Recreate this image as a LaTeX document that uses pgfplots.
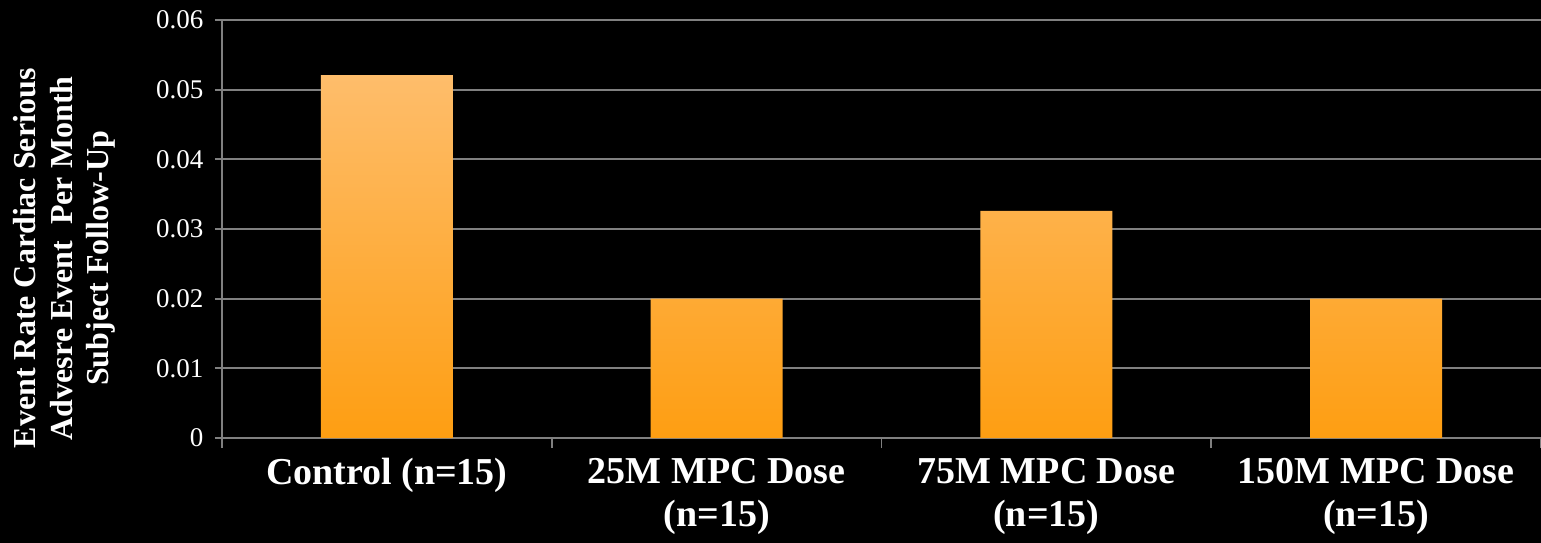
\documentclass[border=0pt]{standalone}
\usepackage{fontspec}
\setmainfont{Liberation Serif}
\usepackage{pgfplots}
\pgfplotsset{compat=1.18}
\definecolor{gridgray}{RGB}{128,128,128}
\definecolor{bartop}{RGB}{254,189,107}
\definecolor{barbot}{RGB}{254,158,18}
\begin{document}
\begin{tikzpicture}
\fill[black] (-222pt,-105pt) rectangle (1319pt,438pt);
\begin{axis}[
  at={(0,0)}, anchor=south west,
  scale only axis, width=1319pt, height=418pt,
  xmin=-0.5, xmax=3.5, ymin=0, ymax=0.06,
  enlargelimits=false,
  scaled y ticks=false,
  axis lines=left,
  axis line style={-, gridgray, line width=1.8pt},
  ybar, bar width=0.4,
  xtick={0,1,2,3},
  xticklabels={{Control (n=15)},{25M MPC Dose\\(n=15)},{75M MPC Dose\\(n=15)},{150M MPC Dose\\(n=15)}},
  major x tick style={draw=none},
  minor xtick={-0.5,0.5,1.5,2.5,3.5},
  minor x tick style={gridgray, line width=1.8pt},
  minor tick length=10pt,
  major tick length=7pt,
  tick align=outside,
  ytick={0,0.01,0.02,0.03,0.04,0.05,0.06},
  yticklabels={0,0.01,0.02,0.03,0.04,0.05,0.06},
  y tick style={gridgray, line width=1.8pt},
  ymajorgrids,
  major y grid style={gridgray, line width=1.8pt},
  xticklabel style={align=center, text=white, font=\bfseries\fontsize{38}{43}\selectfont, yshift=-10pt},
  yticklabel style={text=white, font=\fontsize{27}{31}\selectfont, xshift=-8pt},
  ylabel={Event Rate Cardiac Serious\\Advesre Event\ \ Per Month\\Subject Follow-Up},
  ylabel style={align=center, text=white, font=\bfseries\fontsize{32}{36.7}\selectfont,
    at={(axis description cs:-0.1195,0.43)}, anchor=center},
]
\addplot[draw=none, top color=bartop, bottom color=barbot] coordinates {(0,0.0521) (1,0.02) (2,0.0326) (3,0.02)};
\end{axis}
\pgfresetboundingbox
\path[use as bounding box] (-222pt,-105pt) rectangle (1319pt,438pt);
\end{tikzpicture}
\end{document}
